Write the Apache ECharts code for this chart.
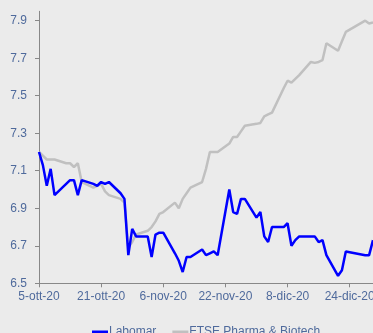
<!DOCTYPE html>
<html>
<head>
<meta charset="utf-8">
<script src="https://cdn.jsdelivr.net/npm/echarts@6/dist/echarts.min.js"></script>
<style>
    html, body { margin: 0; padding: 0; background: #ebebeb; }
    #main { width: 373px; height: 333px; }
</style>
</head>
<body>
<div id="main"></div>
<script>
// sedute di borsa, 5-ott-20 .. 30-dic-20
var dates = [
    '2020-10-05', '2020-10-06', '2020-10-07', '2020-10-08', '2020-10-09',
    '2020-10-12', '2020-10-13', '2020-10-14', '2020-10-15', '2020-10-16',
    '2020-10-19', '2020-10-20', '2020-10-21', '2020-10-22', '2020-10-23',
    '2020-10-26', '2020-10-27', '2020-10-28', '2020-10-29', '2020-10-30',
    '2020-11-02', '2020-11-03', '2020-11-04', '2020-11-05', '2020-11-06',
    '2020-11-09', '2020-11-10', '2020-11-11', '2020-11-12', '2020-11-13',
    '2020-11-16', '2020-11-17', '2020-11-18', '2020-11-19', '2020-11-20',
    '2020-11-23', '2020-11-24', '2020-11-25', '2020-11-26', '2020-11-27',
    '2020-11-30', '2020-12-01', '2020-12-02', '2020-12-03', '2020-12-04',
    '2020-12-07', '2020-12-08', '2020-12-09', '2020-12-10', '2020-12-11',
    '2020-12-14', '2020-12-15', '2020-12-16', '2020-12-17', '2020-12-18',
    '2020-12-21', '2020-12-22', '2020-12-23',
    '2020-12-28', '2020-12-29', '2020-12-30'
];
var labomar = [
    7.20, 7.13, 7.02, 7.11, 6.97,
    7.03, 7.05, 7.05, 6.97, 7.05,
    7.03, 7.02, 7.04, 7.03, 7.04,
    6.98, 6.95, 6.65, 6.79, 6.75,
    6.75, 6.64, 6.76, 6.77, 6.77,
    6.66, 6.62, 6.56, 6.64, 6.64,
    6.68, 6.65, 6.66, 6.67, 6.65,
    7.00, 6.88, 6.87, 6.95, 6.95,
    6.85, 6.88, 6.75, 6.72, 6.80,
    6.80, 6.82, 6.70, 6.73, 6.75,
    6.75, 6.75, 6.72, 6.73, 6.65,
    6.54, 6.57, 6.67,
    6.65, 6.65, 6.73
];
var ftse = [
    7.20, 7.18, 7.16, 7.16, 7.16,
    7.14, 7.14, 7.12, 7.14, 7.04,
    7.01, 7.02, 7.03, 6.99, 6.97,
    6.95, 6.93, 6.69, 6.72, 6.76,
    6.78, 6.80, 6.83, 6.87, 6.88,
    6.93, 6.90, 6.95, 6.98, 7.01,
    7.04, 7.11, 7.20, 7.20, 7.20,
    7.245, 7.28, 7.28, 7.31, 7.34,
    7.35, 7.355, 7.39, 7.40, 7.41,
    7.54, 7.58, 7.57, 7.59, 7.61,
    7.68, 7.675, 7.68, 7.69, 7.78,
    7.74, 7.79, 7.84,
    7.90, 7.885, 7.89
];
var yTicks = [6.5, 6.7, 6.9, 7.1, 7.3, 7.5, 7.7, 7.9];
var mesi = ['gen', 'feb', 'mar', 'apr', 'mag', 'giu', 'lug', 'ago', 'set', 'ott', 'nov', 'dic'];

var start = Date.UTC(2020, 9, 5);
var DAY = 86400000;
function dayOf(s) {
    var p = s.split('-');
    return Math.round((Date.UTC(+p[0], +p[1] - 1, +p[2]) - start) / DAY);
}
function pairs(values) {
    var out = [];
    for (var i = 0; i < dates.length; i++) {
        out.push([dayOf(dates[i]), values[i]]);
    }
    return out;
}
function fmtDay(v) {
    var d = new Date(start + v * DAY);
    return d.getUTCDate() + '-' + mesi[d.getUTCMonth()] + '-' + String(d.getUTCFullYear()).slice(2);
}

var textColor = '#4f6a9c';
var myChart = echarts.init(document.getElementById('main'));
var option = {
    backgroundColor: '#ebebeb',
    animation: false,
    grid: { left: 39, right: 0, top: 11.3, bottom: 49.7, outerBoundsMode: 'none', containLabel: false },
    legend: {
        left: 87,
        top: 321,
        itemWidth: 16,
        itemHeight: 3,
        itemGap: 16,
        icon: 'rect',
        textStyle: { color: textColor, fontSize: 12, fontFamily: 'Liberation Sans', padding: [0, 0, 0, -4] },
        data: ['Labomar', 'FTSE Pharma & Biotech']
    },
    xAxis: {
        type: 'value',
        min: 0,
        max: 86,
        interval: 16,
        splitLine: { show: false },
        axisLine: { lineStyle: { color: '#888', width: 1 } },
        axisTick: { show: true, length: 4, lineStyle: { color: '#888' } },
        axisLabel: {
            color: textColor, fontSize: 12, fontFamily: 'Liberation Sans', margin: 7,
            showMaxLabel: false,
            formatter: fmtDay
        }
    },
    yAxis: {
        type: 'value',
        min: yTicks[0],
        max: 7.95,
        interval: 0.2,
        splitLine: { show: false },
        axisLine: { show: true, lineStyle: { color: '#888', width: 1 } },
        axisTick: { show: true, length: 4, lineStyle: { color: '#888' } },
        axisLabel: {
            color: textColor, fontSize: 12, fontFamily: 'Liberation Sans', margin: 12,
            showMaxLabel: false,
            formatter: function (v) { return v.toFixed(1); }
        }
    },
    series: [
        {
            name: 'FTSE Pharma & Biotech',
            type: 'line',
            data: pairs(ftse),
            showSymbol: false,
            color: '#c0c0c0',
            lineStyle: { color: '#c0c0c0', width: 2.5 },
            z: 2
        },
        {
            name: 'Labomar',
            type: 'line',
            data: pairs(labomar),
            showSymbol: false,
            color: '#0000ff',
            lineStyle: { color: '#0000ff', width: 2.5 },
            z: 3
        }
    ]
};
myChart.setOption(option);
</script>
</body>
</html>
